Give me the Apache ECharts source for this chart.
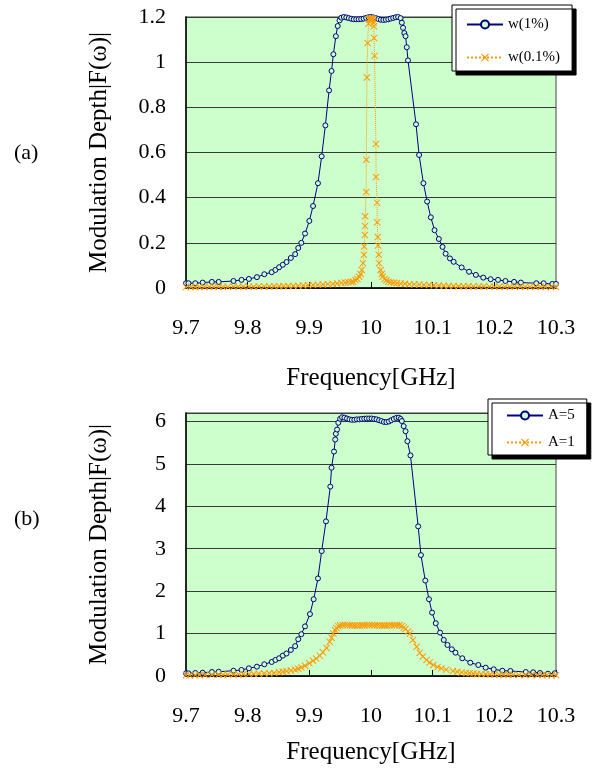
<!DOCTYPE html>
<html>
<head>
<meta charset="utf-8">
<script src="https://cdn.jsdelivr.net/npm/echarts@6/dist/echarts.min.js"></script>
<style>
  html, body { margin: 0; padding: 0; background: #fff; }
  #main { width: 594px; height: 772px; }
</style>
</head>
<body>
<div id="main"></div>
<script>
// (a) w(1%)
const freqA1 = [9.700, 9.704, 9.715, 9.727, 9.742, 9.753, 9.777, 9.790, 9.802, 9.815, 9.827, 9.839, 9.845, 9.851, 9.857, 9.863, 9.870, 9.877, 9.882, 9.887, 9.893, 9.900, 9.906, 9.914, 9.920, 9.926, 9.932, 9.936, 9.939, 9.943, 9.946, 9.949, 9.952, 9.956, 9.960, 9.964, 9.968, 9.972, 9.976, 9.980, 9.984, 9.988, 9.992, 9.996, 10.000, 10.004, 10.008, 10.012, 10.016, 10.020, 10.024, 10.028, 10.032, 10.036, 10.040, 10.044, 10.048, 10.050, 10.052, 10.054, 10.056, 10.058, 10.060, 10.073, 10.078, 10.085, 10.091, 10.097, 10.103, 10.110, 10.116, 10.121, 10.128, 10.134, 10.147, 10.159, 10.170, 10.182, 10.194, 10.206, 10.218, 10.232, 10.243, 10.268, 10.280, 10.294, 10.300];
const valA1 = [0.021, 0.021, 0.021, 0.024, 0.027, 0.027, 0.031, 0.036, 0.040, 0.048, 0.061, 0.070, 0.080, 0.092, 0.103, 0.115, 0.133, 0.150, 0.177, 0.200, 0.241, 0.297, 0.363, 0.464, 0.583, 0.720, 0.875, 0.961, 1.035, 1.115, 1.160, 1.185, 1.197, 1.200, 1.198, 1.195, 1.192, 1.190, 1.190, 1.190, 1.191, 1.193, 1.196, 1.199, 1.200, 1.198, 1.195, 1.191, 1.188, 1.187, 1.188, 1.190, 1.193, 1.196, 1.199, 1.200, 1.195, 1.175, 1.152, 1.129, 1.115, 1.066, 1.008, 0.725, 0.589, 0.464, 0.383, 0.313, 0.256, 0.217, 0.182, 0.152, 0.131, 0.116, 0.091, 0.072, 0.058, 0.046, 0.039, 0.036, 0.031, 0.027, 0.024, 0.021, 0.021, 0.018, 0.018];

// (a) w(0.1%)
const freqA2 = [9.700, 9.708, 9.715, 9.722, 9.730, 9.738, 9.745, 9.753, 9.760, 9.768, 9.777, 9.785, 9.793, 9.802, 9.810, 9.818, 9.827, 9.835, 9.843, 9.851, 9.858, 9.866, 9.874, 9.882, 9.890, 9.898, 9.906, 9.914, 9.922, 9.930, 9.938, 9.945, 9.952, 9.958, 9.963, 9.968, 9.971, 9.975, 9.978, 9.981, 9.983, 9.985, 9.987, 9.9885, 9.989, 9.990, 9.9903, 9.9906, 9.9922, 9.9924, 9.9934, 9.9945, 9.996, 9.997, 9.998, 9.999, 10.000, 10.001, 10.002, 10.003, 10.004, 10.0047, 10.0050, 10.0058, 10.0080, 10.0082, 10.0098, 10.0100, 10.0110, 10.0115, 10.0126, 10.0130, 10.0156, 10.0175, 10.0188, 10.022, 10.025, 10.028, 10.032, 10.037, 10.042, 10.048, 10.055, 10.062, 10.070, 10.078, 10.086, 10.094, 10.102, 10.110, 10.118, 10.126, 10.134, 10.142, 10.150, 10.158, 10.166, 10.175, 10.183, 10.192, 10.200, 10.208, 10.217, 10.225, 10.233, 10.242, 10.250, 10.258, 10.267, 10.275, 10.283, 10.292, 10.300];
const valA2 = [0.004, 0.004, 0.004, 0.004, 0.005, 0.005, 0.005, 0.005, 0.005, 0.005, 0.006, 0.006, 0.006, 0.006, 0.006, 0.007, 0.007, 0.007, 0.008, 0.008, 0.008, 0.009, 0.009, 0.010, 0.011, 0.012, 0.013, 0.014, 0.015, 0.017, 0.018, 0.020, 0.022, 0.024, 0.026, 0.027, 0.028, 0.034, 0.040, 0.050, 0.062, 0.080, 0.110, 0.147, 0.184, 0.235, 0.274, 0.318, 0.425, 0.568, 0.932, 1.085, 1.170, 1.190, 1.195, 1.190, 1.185, 1.190, 1.195, 1.190, 1.175, 1.159, 1.107, 1.028, 0.638, 0.492, 0.378, 0.291, 0.226, 0.188, 0.147, 0.110, 0.080, 0.062, 0.050, 0.040, 0.034, 0.028, 0.025, 0.023, 0.021, 0.020, 0.019, 0.017, 0.016, 0.015, 0.014, 0.013, 0.012, 0.011, 0.010, 0.009, 0.009, 0.008, 0.008, 0.008, 0.007, 0.007, 0.007, 0.006, 0.006, 0.006, 0.006, 0.006, 0.005, 0.005, 0.005, 0.005, 0.005, 0.005, 0.004, 0.004, 0.004];

// (b) A=5
const freqB1 = [9.700, 9.704, 9.715, 9.727, 9.742, 9.753, 9.777, 9.790, 9.802, 9.815, 9.827, 9.839, 9.845, 9.851, 9.857, 9.863, 9.870, 9.877, 9.882, 9.887, 9.893, 9.901, 9.907, 9.914, 9.920, 9.927, 9.934, 9.936, 9.940, 9.942, 9.943, 9.945, 9.947, 9.950, 9.953, 9.957, 9.961, 9.965, 9.969, 9.973, 9.977, 9.981, 9.985, 9.989, 9.993, 9.997, 10.001, 10.005, 10.009, 10.013, 10.017, 10.021, 10.025, 10.029, 10.033, 10.037, 10.041, 10.045, 10.048, 10.050, 10.053, 10.056, 10.059, 10.064, 10.0765, 10.081, 10.088, 10.094, 10.099, 10.105, 10.112, 10.118, 10.124, 10.131, 10.137, 10.148, 10.161, 10.174, 10.186, 10.199, 10.213, 10.226, 10.251, 10.263, 10.274, 10.287, 10.298];
const valB1 = [0.064, 0.064, 0.071, 0.078, 0.094, 0.100, 0.125, 0.142, 0.182, 0.220, 0.276, 0.331, 0.378, 0.418, 0.480, 0.530, 0.614, 0.705, 0.867, 0.985, 1.170, 1.460, 1.810, 2.300, 2.945, 3.645, 4.465, 4.910, 5.290, 5.575, 5.710, 5.810, 5.970, 6.064, 6.100, 6.090, 6.070, 6.050, 6.040, 6.040, 6.050, 6.050, 6.060, 6.065, 6.070, 6.070, 6.070, 6.060, 6.050, 6.030, 6.010, 5.990, 5.985, 6.000, 6.030, 6.060, 6.085, 6.090, 6.060, 6.010, 5.890, 5.770, 5.535, 5.200, 3.527, 2.850, 2.250, 1.810, 1.495, 1.245, 1.023, 0.850, 0.732, 0.630, 0.550, 0.418, 0.314, 0.260, 0.196, 0.158, 0.125, 0.118, 0.094, 0.087, 0.071, 0.054, 0.064];

// (b) A=1
const freqB2 = [9.700, 9.706, 9.715, 9.722, 9.731, 9.742, 9.753, 9.760, 9.768, 9.777, 9.785, 9.793, 9.802, 9.810, 9.818, 9.827, 9.835, 9.843, 9.851, 9.857, 9.863, 9.870, 9.877, 9.882, 9.887, 9.893, 9.900, 9.906, 9.911, 9.917, 9.922, 9.928, 9.933, 9.936, 9.939, 9.942, 9.944, 9.947, 9.950, 9.954, 9.958, 9.962, 9.966, 9.970, 9.974, 9.978, 9.982, 9.986, 9.990, 9.994, 9.998, 10.002, 10.006, 10.010, 10.014, 10.018, 10.022, 10.026, 10.030, 10.034, 10.038, 10.042, 10.046, 10.050, 10.053, 10.056, 10.060, 10.063, 10.068, 10.074, 10.079, 10.084, 10.090, 10.095, 10.101, 10.108, 10.114, 10.122, 10.133, 10.140, 10.147, 10.154, 10.160, 10.166, 10.172, 10.179, 10.186, 10.193, 10.200, 10.208, 10.215, 10.223, 10.230, 10.240, 10.250, 10.260, 10.270, 10.278, 10.285, 10.293, 10.300];
const valB2 = [0.020, 0.020, 0.020, 0.022, 0.024, 0.027, 0.030, 0.032, 0.033, 0.035, 0.038, 0.040, 0.045, 0.048, 0.052, 0.060, 0.065, 0.072, 0.090, 0.100, 0.115, 0.130, 0.150, 0.170, 0.200, 0.240, 0.300, 0.360, 0.410, 0.480, 0.560, 0.660, 0.810, 0.900, 1.000, 1.080, 1.130, 1.170, 1.190, 1.200, 1.205, 1.200, 1.195, 1.192, 1.190, 1.190, 1.192, 1.195, 1.198, 1.200, 1.200, 1.200, 1.198, 1.196, 1.193, 1.190, 1.190, 1.192, 1.195, 1.198, 1.200, 1.200, 1.198, 1.180, 1.140, 1.110, 1.050, 1.000, 0.850, 0.690, 0.550, 0.460, 0.380, 0.320, 0.260, 0.210, 0.180, 0.150, 0.115, 0.100, 0.085, 0.073, 0.065, 0.057, 0.050, 0.045, 0.040, 0.037, 0.035, 0.032, 0.030, 0.028, 0.027, 0.025, 0.024, 0.023, 0.022, 0.021, 0.020, 0.020, 0.020];

const xTicks = { min: 9.7, max: 10.3, interval: 0.1 };

function pairs(xs, ys) {
  return xs.map((x, i) => [x, ys[i]]);
}

const serif = 'Liberation Serif';
const blue = '#000080';
const orange = '#ff9900';
const cross = 'path://M0,1L1,0L5,4L9,0L10,1L6,5L10,9L9,10L5,6L1,10L0,9L4,5Z';

function xAxisCfg(gridIndex, nameGap) {
  return {
    type: 'value', gridIndex,
    min: xTicks.min, max: xTicks.max, interval: xTicks.interval,
    name: 'Frequency[GHz]', nameLocation: 'middle', nameGap,
    nameTextStyle: { fontFamily: serif, fontSize: 25, color: '#000' },
    axisLine: { lineStyle: { color: '#000', width: 1.5 } },
    axisTick: { inside: true, length: 6, lineStyle: { color: '#000' } },
    axisLabel: { fontFamily: serif, fontSize: 22, color: '#000', margin: 29,
      formatter: v => String(+v.toFixed(1)) },
    splitLine: { show: false }
  };
}

function yAxisCfg(gridIndex, max, interval) {
  return {
    type: 'value', gridIndex, min: 0, max, interval,
    name: 'Modulation Depth|F(ω)|', nameLocation: 'middle', nameGap: 74,
    nameTextStyle: { fontFamily: serif, fontSize: 25, color: '#000' },
    axisLine: { show: true, lineStyle: { color: '#000', width: 1.5 } },
    axisTick: { show: false },
    axisLabel: { fontFamily: serif, fontSize: 22, color: '#000', margin: 20,
      showMaxLabel: interval === 0.2,
      formatter: v => String(+v.toFixed(1)) },
    splitLine: { lineStyle: { color: '#3a3a3a', width: 1.2 } }
  };
}

function legendCfg(names, left, top, gap, pad) {
  return {
    data: names, orient: 'vertical', left, top,
    backgroundColor: '#fff', borderColor: '#000', borderWidth: 1,
    shadowColor: '#000', shadowBlur: 0, shadowOffsetX: 4, shadowOffsetY: 4,
    padding: pad, itemGap: gap, itemWidth: 36, itemHeight: 10,
    textStyle: { fontFamily: serif, fontSize: 15, color: '#000' }
  };
}

function blueSeries(name, idx, data) {
  return {
    name, type: 'line', xAxisIndex: idx, yAxisIndex: idx, data,
    symbol: 'circle', symbolSize: 5, showAllSymbol: true,
    lineStyle: { color: blue, width: 1 },
    itemStyle: { color: '#ccffcc', borderColor: blue, borderWidth: 1 }
  };
}

function orangeSeries(name, idx, data) {
  return {
    name, type: 'line', xAxisIndex: idx, yAxisIndex: idx, data,
    symbol: cross, symbolSize: 7, showAllSymbol: true,
    lineStyle: { color: orange, width: 1, type: 'dotted' },
    itemStyle: { color: orange }
  };
}

const chart = echarts.init(document.getElementById('main'));
chart.setOption({
  animation: false,
  backgroundColor: '#fff',
  grid: [
    { left: 186, top: 17, width: 370, height: 271, show: true,
      backgroundColor: '#ccffcc', borderColor: '#808080', borderWidth: 1.5 },
    { left: 186, top: 413, width: 370, height: 263, show: true,
      backgroundColor: '#ccffcc', borderColor: '#808080', borderWidth: 1.5 }
  ],
  xAxis: [xAxisCfg(0, 78), xAxisCfg(1, 64)],
  yAxis: [yAxisCfg(0, 1.2, 0.2), yAxisCfg(1, 6.2, 1)],
  legend: [
    legendCfg(['w(1%)', 'w(0.1%)'], 452, 5, 18, [12, 12, 6, 14]),
    legendCfg(['A=5', 'A=1'], 488, 399, 12, [9, 12, 5, 18])
  ],
  graphic: [
    { type: 'text', left: 14, top: 142, style: { text: '(a)', fontFamily: serif, fontSize: 22, fill: '#000' } },
    { type: 'text', left: 14, top: 508, style: { text: '(b)', fontFamily: serif, fontSize: 22, fill: '#000' } }
  ],
  series: [
    blueSeries('w(1%)', 0, pairs(freqA1, valA1)),
    orangeSeries('w(0.1%)', 0, pairs(freqA2, valA2)),
    blueSeries('A=5', 1, pairs(freqB1, valB1)),
    orangeSeries('A=1', 1, pairs(freqB2, valB2))
  ]
});
</script>
</body>
</html>
